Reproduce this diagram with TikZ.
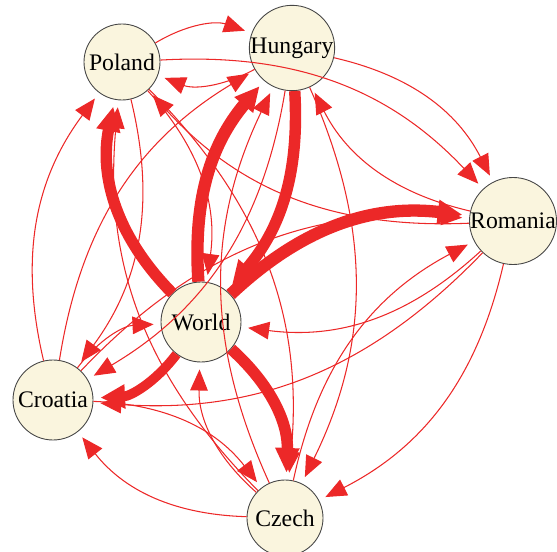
\documentclass[tikz,border=0pt]{standalone}
\usepackage{fontspec}
\setmainfont{Liberation Serif}
\usetikzlibrary{arrows.meta}
\definecolor{edgered}{RGB}{236,40,40}
\definecolor{nodecream}{RGB}{250,245,222}
\definecolor{rimgray}{RGB}{70,70,70}

\begin{document}
\begin{tikzpicture}
	\tikzset{vertex/.style = {shape=circle,draw=rimgray,fill=nodecream,line width=0.5pt,
			minimum size=1.52cm,inner sep=0pt,font=\fontsize{13.5}{16}\selectfont}}
	\tikzset{edge/.style = {-{Triangle[length=12pt,width=10pt]},draw=edgered,
			line width=0.6pt,shorten >=4pt,bend left=25}}
	\tikzset{heavy/.style = {edge,-{Triangle[length=14pt,width=13pt]},line width=#1}}
	\useasboundingbox (0,0) rectangle (11.14,11.02);
	% vertices
	\node[vertex] (pol) at (2.44,9.78) {Poland};
	\node[vertex] (hun) at (5.84,10.06) {Hungary};
	\node[vertex] (rom) at (10.26,6.60) {Romania};
	\node[vertex,minimum size=1.6cm] (wor) at (4.02,4.58) {World};
	\node[vertex,minimum size=1.6cm] (cro) at (1.06,3.02) {Croatia};
	\node[vertex] (cze) at (5.70,0.66) {Czech};
	
	%edges
	\draw[edge] (pol) to (hun);
	\draw[edge] (hun) to (pol);
	\draw[edge] (pol) to (rom);
	\draw[edge] (rom) to (pol);
	\draw[edge] (pol) to (wor);
	\draw[heavy=6.5pt,bend left=28] (wor) to (pol);
	\draw[edge] (pol) to (cro);
	\draw[edge] (cro) to (pol);
	\draw[edge] (pol) to (cze);
	\draw[edge] (cze) to (pol);
	
	\draw[edge] (hun) to (rom);
	\draw[edge] (rom) to (hun);
	\draw[heavy=6.5pt,bend left=22] (hun) to (wor);
	\draw[heavy=7pt,bend left=22] (wor) to (hun);
	\draw[edge] (hun) to (cro);
	\draw[edge] (cro) to (hun);
	\draw[edge] (hun) to (cze);
	\draw[edge] (cze) to (hun);
	
	\draw[edge] (rom) to (wor);
	\draw[heavy=7pt] (wor) to (rom);
	\draw[edge] (rom) to (cro);
	\draw[edge] (cro) to (rom);
	\draw[edge] (rom) to (cze);
	\draw[edge] (cze) to (rom);
	
	\draw[heavy=5.5pt] (wor) to (cro);
	\draw[edge] (cro) to (wor);
	\draw[heavy=6.5pt] (wor) to (cze);
	\draw[edge] (cze) to (wor);
	\draw[edge] (cro) to (cze);
	\draw[edge] (cze) to (cro);
\end{tikzpicture}
\end{document}
